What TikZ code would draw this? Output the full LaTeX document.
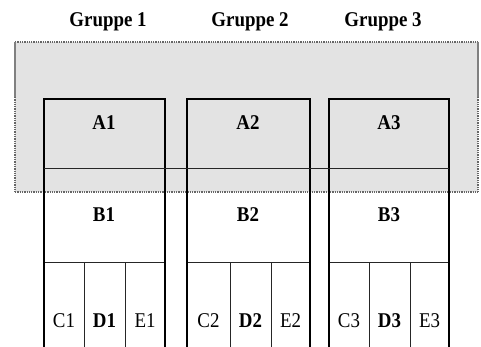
\documentclass[tikz,border=0pt]{standalone}
\usepackage{fontspec}
\setmainfont{Liberation Serif}
\newcommand\narrowtxt[1]{\scalebox{0.9}[1]{#1}}
\begin{document}
\begin{tikzpicture}[x=1pt,y=-1pt,
  head/.style={font=\fontsize{21}{23}\selectfont\bfseries, inner sep=0pt, anchor=base},
  cellb/.style={font=\fontsize{21}{23}\selectfont\bfseries, inner sep=0pt, anchor=base},
  cellr/.style={font=\fontsize{21}{23}\selectfont, inner sep=0pt, anchor=base},
  outer/.style={line width=2pt, black},
  inner/.style={line width=1pt, black!85},
  band/.style={fill=black!11},
  bandedge/.style={line width=1.3pt, black!60, densely dotted},
  bandsolid/.style={line width=1.3pt, black!50}]
\useasboundingbox (0,0) rectangle (481,347);
\clip (0,0) rectangle (481,347);

% shaded band behind the upper parts of the columns
\fill[band] (15,42) rectangle (478,192);
\coordinate (bTL) at (15,42);
\coordinate (bTR) at (478,42);
\coordinate (bBL) at (15,192);
\coordinate (bBR) at (478,192);
\coordinate (bML) at (15,97);
\coordinate (bMR) at (478,97);
\draw[bandedge] (bTL) -- (bTR);
\draw[bandedge] (bBL) -- (bBR);
\draw[bandsolid] (bTL) -- (bML);
\draw[bandsolid] (bTR) -- (bMR);
\draw[bandedge] (bML) -- (bBL);
\draw[bandedge] (bMR) -- (bBR);

% group headings
\node[head] (g1) at (108,27) {\narrowtxt{Gruppe 1}};
\node[head] (g2) at (250,27) {\narrowtxt{Gruppe 2}};
\node[head] (g3) at (383,27) {\narrowtxt{Gruppe 3}};

% three columns: left, right, two inner dividers
\foreach \i/\l/\r/\p/\q in {1/44/165/84/125, 2/187/310/230/271, 3/329/449/369/410}{
  \coordinate (tl\i) at (\l,99);
  \coordinate (tr\i) at (\r,99);
  \coordinate (bl\i) at (\l,352);
  \coordinate (br\i) at (\r,352);
  \coordinate (ml\i) at (\l,262);
  \coordinate (mr\i) at (\r,262);
  \coordinate (p\i) at (\p,262);
  \coordinate (pb\i) at (\p,352);
  \coordinate (q\i) at (\q,262);
  \coordinate (qb\i) at (\q,352);
  \draw[inner] (ml\i) -- (mr\i);
  \draw[inner] (p\i) -- (pb\i);
  \draw[inner] (q\i) -- (qb\i);
  \draw[outer] (bl\i) -- (tl\i) -- (tr\i) -- (br\i);
}

% line running across all three columns
\coordinate (hL) at (44,169);
\coordinate (hR) at (449,169);
\draw[inner] (hL) -- (hR);

% labels
\node[cellb] (a1) at (104,130) {\narrowtxt{A1}};
\node[cellb] (a2) at (248,130) {\narrowtxt{A2}};
\node[cellb] (a3) at (389,130) {\narrowtxt{A3}};
\node[cellb] (b1) at (104,221) {\narrowtxt{B1}};
\node[cellb] (b2) at (248,221) {\narrowtxt{B2}};
\node[cellb] (b3) at (389,221) {\narrowtxt{B3}};

\node[cellr] (c1) at (64,327) {\narrowtxt{C1}};
\node[cellb] (d1) at (104.5,327) {\narrowtxt{D1}};
\node[cellr] (e1) at (145,327) {\narrowtxt{E1}};
\node[cellr] (c2) at (208.5,327) {\narrowtxt{C2}};
\node[cellb] (d2) at (250.5,327) {\narrowtxt{D2}};
\node[cellr] (e2) at (290.5,327) {\narrowtxt{E2}};
\node[cellr] (c3) at (349,327) {\narrowtxt{C3}};
\node[cellb] (d3) at (389.5,327) {\narrowtxt{D3}};
\node[cellr] (e3) at (429.5,327) {\narrowtxt{E3}};
\end{tikzpicture}
\end{document}
